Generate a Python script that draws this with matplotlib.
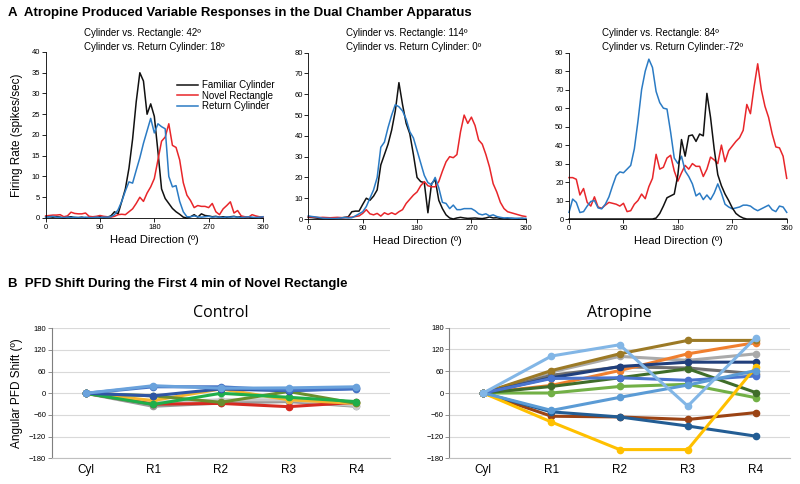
import numpy as np
import matplotlib
matplotlib.use('Agg')
import matplotlib.pyplot as plt

plt.rcParams['font.family'] = ['Liberation Sans', 'DejaVu Sans']

# Panel A: firing rate by head direction (6 degree bins, 0..360)
angles = np.arange(0, 361, 6)

# cell 1 (Cylinder vs Rectangle 42, vs Return 18)
cyl1 = [0.3, 0.3, 0.2, 0.3, 0.2, 0, 0.2, 0.3, 0.1, 0.1, 0.2, 0, 0.2, 0.3, 0.2, 0.3,
        0.1, 0.2, 0.5, 1.5, 1.0, 4, 7, 12, 19, 28, 35, 33, 25, 27.5, 24.5, 16, 7,
        4.7, 3.5, 2.3, 1.5, 0.9, 0.2, 0, 0.3, 0.8, 0.2, 1.0, 0.6, 0.5, 0.3, 0.4,
        0.2, 0.3, 0.2, 0.3, 0.4, 0.2, 0.3, 0.1, 0.2, 0, 0.1, 0.2, 0]
rect1 = [0.5, 0.6, 0.7, 0.7, 0.8, 0.3, 0.5, 1.4, 1.1, 1.0, 1.0, 1.2, 0.4, 0.3, 0.4,
         0.6, 0.4, 0.3, 0.2, 0.4, 0.8, 0.9, 0.8, 1.5, 2.2, 3.5, 5.0, 4.0, 6.0, 7.5,
         9.5, 14, 18.5, 19.5, 22.7, 17.5, 17, 14, 8.5, 5.5, 4.2, 2.5, 3, 2.8, 2.8,
         2.5, 3.5, 1.5, 0.8, 2.2, 3, 3.9, 1.2, 1.8, 0.5, 0.3, 0.2, 0.8, 0.5, 0.3, 0.3]
ret1 = [0.2, 0.3, 0.4, 0.2, 0.1, 0.1, 0.2, 0.1, 0.2, 0.1, 0.1, 0.2, 0.1, 0.1, 0.2,
        0.1, 0.2, 0.2, 0.3, 0.8, 2, 4, 6.5, 8.7, 8.4, 11.5, 14.5, 18, 21, 24, 20.5,
        22.7, 22, 21.5, 10, 7.5, 7.8, 4, 1.5, 0.3, 0.3, 0.5, 0.3, 0.2, 0.3, 0.4,
        0.2, 0.3, 0.2, 0.1, 0.3, 0.2, 0.3, 0.2, 0.1, 0.2, 0.3, 0.2, 0.1, 0.2, 0.3]

# cell 2 (114, 0)
cyl2 = [0.8, 0.7, 0.5, 0.3, 0.2, 0.3, 0.2, 0.3, 0.4, 0.5, 0.8, 1, 3.5, 3.8, 3.8, 7,
        10, 9, 11, 14, 26, 31, 36, 42.8, 52, 65.6, 55, 46, 41, 31, 20, 18, 17.5,
        3, 17, 19, 9, 5, 2, 0.5, 0, 0.5, 0.8, 0.5, 0.3, 0.4, 0.5, 0.3, 0.2, 0.5,
        1.0, 0.5, 0.6, 0.3, 0.2, 0.1, 0.3, 0.2, 0.1, 0.3, 0]
rect2 = [1, 1, 0.8, 0.7, 0.8, 0.7, 0.6, 0.7, 0.8, 0.7, 0.6, 0.8, 0.9, 1.2, 1.5, 2.7,
         4.5, 2.5, 2, 2.7, 1.4, 3, 2.2, 3, 2.2, 3.5, 4.5, 7.5, 9.5, 11.5, 13, 16,
         18, 16, 15.5, 15.5, 18, 23, 27.5, 30, 29.5, 31, 42, 50, 46, 49, 45, 38,
         36, 31, 25, 17, 13, 8, 5, 3.5, 3, 2.5, 2, 1.5, 1.2]
ret2 = [1.5, 1.2, 1, 0.7, 0.4, 0.3, 0.3, 0.2, 0.3, 0.5, 0.7, 0.5, 0.6, 1.5, 2.5, 3.5,
        6, 10, 14, 20, 34.5, 37, 44, 50, 55, 54, 52, 48, 42, 39, 33, 27, 21, 17.5,
        16.5, 20, 15, 8, 7.5, 5, 6.7, 4.5, 4.5, 5, 5, 5, 4, 2.5, 2, 2.5, 1.5, 2,
        1.2, 0.8, 0.5, 0.6, 0.4, 0.3, 0.4, 0.3, 0.3]

# cell 3 (84, -72)
cyl3 = [0] * 24 + [0.5, 3, 7, 11.5, 12.5, 13.5, 24, 43, 34, 45, 45.5, 42, 46, 45,
                   68, 55, 38, 24, 18, 13.5, 10, 6, 3, 1.5, 0.5] + [0] * 12
rect3 = [22.4, 22.4, 21.5, 13, 16.5, 9, 7, 12, 6.5, 5.8, 7.5, 9, 8.5, 8, 7, 8.5, 4,
         4.5, 8, 10, 13.5, 11, 17.5, 22, 35, 27, 28, 33, 34.5, 26, 20.5, 25, 29,
         27, 30, 28.5, 28.5, 23, 27, 33.5, 32, 30, 40, 31, 37, 39.5, 42, 44, 48,
         62, 57, 71.5, 84, 70, 61, 55, 46, 39, 38.5, 34, 22]
ret3 = [3.6, 10.8, 9, 3.5, 4, 7, 9.5, 10, 6, 5.5, 8, 12, 18, 23.5, 25.5, 25, 27, 29,
        38, 53, 70, 80, 86.5, 82, 69, 63, 60, 59.5, 47, 33, 30, 34, 26, 23, 19,
        12.5, 14, 10.5, 13, 10.5, 14, 19, 14, 8, 6.5, 5.5, 6, 6.5, 7.5, 7.5, 7,
        5.5, 4.5, 5.5, 6.5, 7.5, 5, 4, 7, 6.5, 3.6]

top_titles = [("Cylinder vs. Rectangle: 42º", "Cylinder vs. Return Cylinder: 18º"),
              ("Cylinder vs. Rectangle: 114º", "Cylinder vs. Return Cylinder: 0º"),
              ("Cylinder vs. Rectangle: 84º", "Cylinder vs. Return Cylinder:-72º")]
top_ymax = [40, 80, 90]
top_ystep = [5, 10, 10]

# Panel B: PFD shift
cats = ["Cyl", "R1", "R2", "R3", "R4"]

ctl_gray = [0, -36, -27, -23, -36]
ctl_lgray = [0, -25, -18, -18, -34]
ctl_red = [0, -30, -28, -37, -25]
ctl_gold = [0, -20, 12, -18, -28]
ctl_olive = [0, -7, -25, 5, -28]
ctl_green = [0, -31, 0, -11, -23]
ctl_navy = [0, -7, 12, 7, 14]
ctl_blue = [0, 18, 18, 8, 12]
ctl_lblue = [0, 21, 14, 15, 18]

atr_gold = [0, 62, 108, 145, 145]
atr_orange = [0, 21, 62, 108, 139]
atr_gray = [0, 58, 101, 90, 108]
atr_dgray = [0, 49, 72, 69, 53]
atr_navy = [0, 42, 73, 85, 85]
atr_blue = [0, 40, 42, 35, 47]
atr_dgreen = [0, 18, 42, 67, 1]
atr_lgreen = [0, 0, 18, 24, -13]
atr_yellow = [0, -80, -156, -156, 72]
atr_brown = [0, -64, -66, -73, -54]
atr_dblue = [0, -52, -66, -91, -119]
atr_mblue = [0, -48, -12, 22, 62]
atr_sky = [0, 102, 133, -36, 153]

fig = plt.figure(figsize=(8, 4.84), dpi=100)
W, H = 800, 484

# ---------- top row ----------
top_pos = [[0.0571, 0.5496, 0.2716, 0.343],
           [0.3854, 0.5475, 0.2718, 0.3436],
           [0.7113, 0.5475, 0.2721, 0.3436]]
top_data = [(cyl1, rect1, ret1), (cyl2, rect2, ret2), (cyl3, rect3, ret3)]
ann_x = [84, 346, 602]
c_black, c_red, c_blue = '#111111', '#e8262a', '#2b7bc4'

for i in range(3):
    ax = fig.add_axes(top_pos[i])
    cy, re, rt = top_data[i]
    ax.plot(angles, cy, color=c_black, lw=1.1, label='Familiar Cylinder', clip_on=False)
    ax.plot(angles, re, color=c_red, lw=1.1, label='Novel Rectangle', clip_on=False)
    ax.plot(angles, rt, color=c_blue, lw=1.1, label='Return Cylinder', clip_on=False)
    if i == 2:
        ax.lines[0].set_zorder(3)
    ax.set_xlim(0, 360)
    ax.set_ylim(0, top_ymax[i])
    ax.set_xticks([0, 90, 180, 270, 360])
    ax.set_yticks(np.arange(0, top_ymax[i] + 1, top_ystep[i]))
    for s in ['top', 'right']:
        ax.spines[s].set_visible(False)
    for s in ['left', 'bottom']:
        ax.spines[s].set_linewidth(0.6)
    ax.tick_params(direction='out', length=3, width=0.6, labelsize=5.5, pad=1)
    ax.set_xlabel("Head Direction (º)", fontsize=8, labelpad=3)
    fig.text(ann_x[i] / W, 1 - 33 / H, top_titles[i][0], fontsize=7, va='center', ha='left')
    fig.text(ann_x[i] / W, 1 - 46.5 / H, top_titles[i][1], fontsize=7, va='center', ha='left')
    if i == 0:
        ax.set_ylabel("Firing Rate (spikes/sec)", fontsize=8.5, labelpad=6)
        ax.legend(loc='upper left', bbox_to_anchor=(0.58, 0.86), frameon=False,
                  fontsize=7, handlelength=2.2, labelspacing=0.05, borderpad=0,
                  handletextpad=0.4)

fig.text(8 / W, 1 - 13 / H, "A  Atropine Produced Variable Responses in the Dual Chamber Apparatus",
         fontsize=9.5, fontweight='bold', va='center', ha='left')
fig.text(8 / W, 1 - 284 / H, "B  PFD Shift During the First 4 min of Novel Rectangle",
         fontsize=9.5, fontweight='bold', va='center', ha='left')

# ---------- bottom row ----------
xs = np.arange(len(cats))
ctl_series = [(ctl_gray, '#9a9a9a'), (ctl_lgray, '#c8c8c8'), (ctl_red, '#d62a20'),
              (ctl_gold, '#f5b52e'), (ctl_olive, '#6a8e2e'), (ctl_green, '#1fae4a'),
              (ctl_navy, '#2f55a4'), (ctl_blue, '#4472c4'), (ctl_lblue, '#6aa2dc')]
atr_series = [(atr_gray, '#aaaaaa'), (atr_dgray, '#6f6f6f'), (atr_orange, '#f07f2e'),
              (atr_gold, '#9c7a26'), (atr_lgreen, '#72b046'), (atr_dgreen, '#3f6d2a'),
              (atr_navy, '#203f7c'), (atr_blue, '#4a74cf'), (atr_brown, '#9b4314'),
              (atr_dblue, '#235d94'), (atr_yellow, '#ffc000'), (atr_mblue, '#5b9bd5'),
              (atr_sky, '#82b6e6')]

bot_pos = [[0.0646, 0.0531, 0.4229, 0.2686], [0.5616, 0.0531, 0.4259, 0.2698]]
bot_titles = ["Control", "Atropine"]
for j, series in enumerate([ctl_series, atr_series]):
    ax = fig.add_axes(bot_pos[j])
    for vals, col in series:
        ax.plot(xs, vals, color=col, lw=2.2, marker='o', ms=4.5, mfc=col, mec=col)
    ax.set_xlim(-0.5, 4.5)
    ax.set_ylim(-180, 180)
    ax.set_yticks(np.arange(-180, 181, 60))
    ax.set_xticks(xs)
    ax.set_xticklabels(cats, fontsize=8.5)
    ax.tick_params(axis='y', labelsize=5.5, length=3, width=0.6, pad=1, color='#7f7f7f')
    ax.tick_params(axis='x', length=0, pad=4)
    ax.grid(axis='y', color='#d9d9d9', lw=0.8)
    ax.set_axisbelow(True)
    for s in ['top', 'right']:
        ax.spines[s].set_visible(False)
    ax.spines['left'].set_color('#7f7f7f')
    ax.spines['bottom'].set_color('#bfbfbf')
    ax.spines['left'].set_linewidth(0.8)
    ax.spines['bottom'].set_linewidth(0.8)
    ax.set_title(bot_titles[j], fontsize=11.5, pad=8, family=['Open Sans', 'Liberation Sans'])
    if j == 0:
        ax.set_ylabel("Angular PFD Shift (º)", fontsize=8.5, labelpad=4)

fig.savefig('out.png', dpi=100)
